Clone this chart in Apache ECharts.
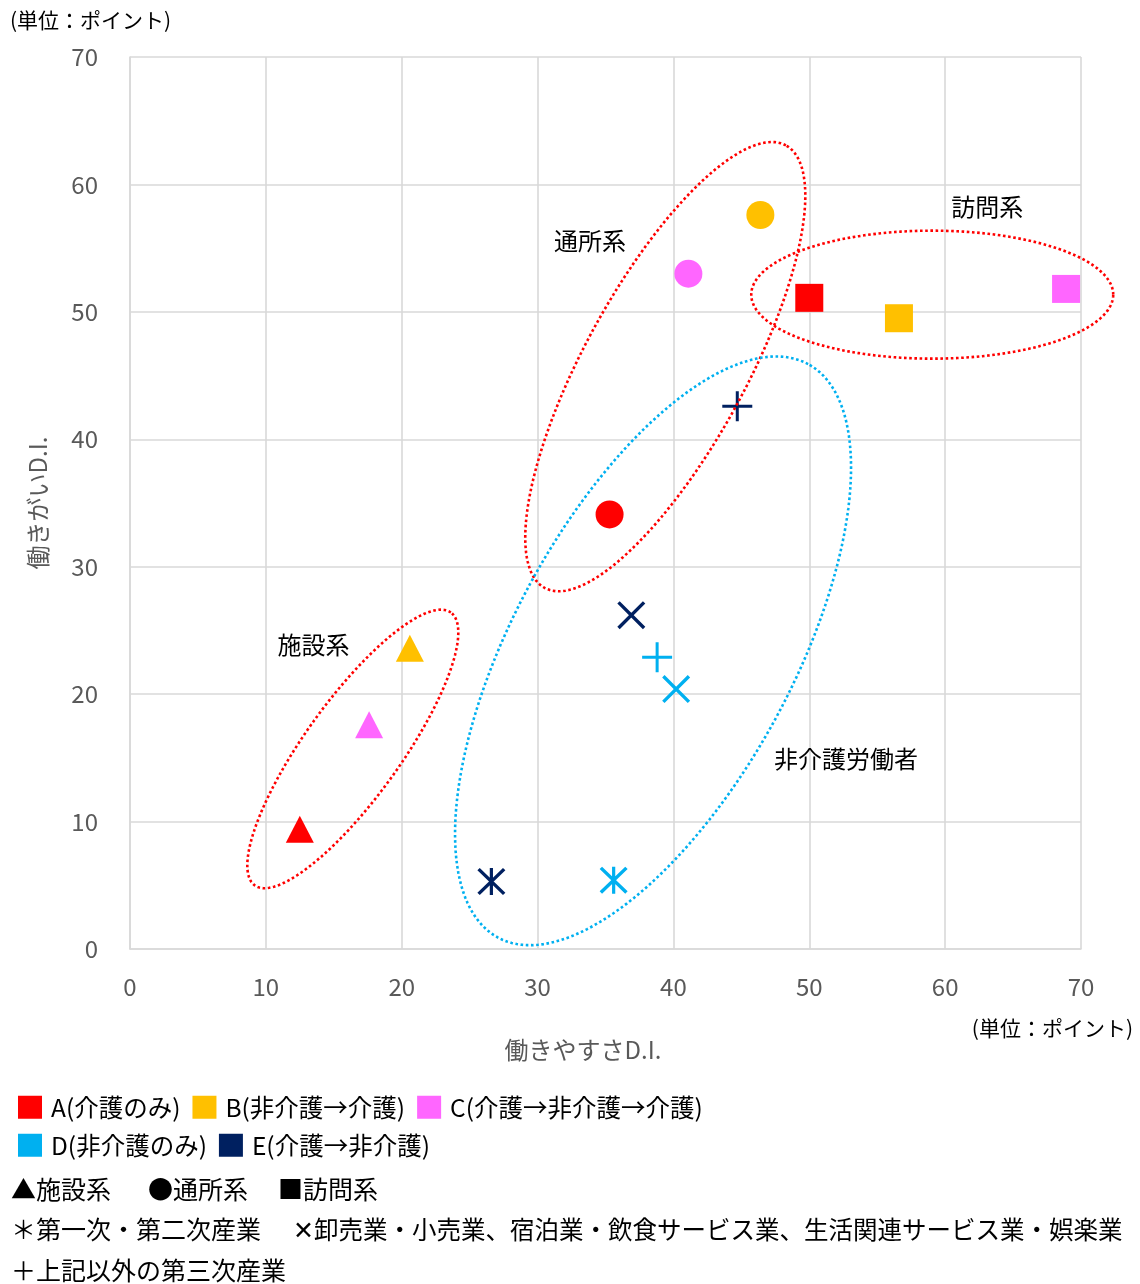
<!DOCTYPE html>
<html>
<head>
<meta charset="utf-8">
<script src="https://cdn.jsdelivr.net/npm/echarts@6/dist/echarts.min.js"></script>
<style>
  html, body { margin: 0; padding: 0; background: #ffffff; }
  #chart { width: 1140px; height: 1284px; }
</style>
</head>
<body>
<div id="chart"></div>
<script>
// Worker groups (legend entries)
const groupNames = ['A(介護のみ)', 'B(非介護→介護)', 'C(介護→非介護→介護)', 'D(非介護のみ)', 'E(介護→非介護)'];

// Care-service types for groups A–C, and industries for groups D–E
const careTypes = ['施設系', '通所系', '訪問系'];
const industries = ['第一次・第二次産業', '卸売業・小売業、宿泊業・飲食サービス業、生活関連サービス業・娯楽業', '上記以外の第三次産業'];

// [働きやすさD.I., 働きがいD.I.] per care type / industry, in the order above
const groupA = [[12.5, 9.4], [35.3, 34.1], [50.0, 51.1]];
const groupB = [[20.6, 23.6], [46.4, 57.6], [56.6, 49.5]];
const groupC = [[17.6, 17.6], [41.1, 53.0], [68.9, 51.8]];
const groupD = [[35.6, 5.4], [40.2, 20.4], [38.8, 22.9]];
const groupE = [[26.6, 5.3], [36.9, 26.2], [44.7, 42.6]];

// Axis ticks (both axes)
const axisMin = 0, axisMax = 70, axisStep = 10;

// ---- styling ----
const FONT = '"Noto Sans CJK JP", "Noto Sans", sans-serif';
const colors = ['#FF0000', '#FFC000', '#FF66FF', '#00B0F0', '#002060'];
const gridColor = '#D9D9D9';

const PLUS = 'path://M13.5,0H16.5V13.5H30V16.5H16.5V30H13.5V16.5H0V13.5H13.5Z';
const CROSS = 'path://M0,2.4L2.4,0L28,25.6L25.6,28ZM25.6,0L28,2.4L2.4,28L0,25.6Z';
const STAR = 'path://M0,2.4L2.4,0L28,25.6L25.6,28ZM25.6,0L28,2.4L2.4,28L0,25.6ZM12.4,0H15.6V28H12.4Z';

const careSymbols = [
  { symbol: 'triangle', symbolSize: [28, 27] },
  { symbol: 'circle', symbolSize: 28 },
  { symbol: 'rect', symbolSize: 28 }
];
const industrySymbols = [
  { symbol: STAR, symbolSize: [28, 27] },
  { symbol: CROSS, symbolSize: 28 },
  { symbol: PLUS, symbolSize: 30 }
];

// Dotted ellipses grouping the points (centre in data units, radii in px)
const clusterShapes = [
  { name: '施設系', center: [16.4, 15.7], rx: 168, ry: 48, angle: 54.3, color: '#FF0000', label: [13.5, 23.9] },
  { name: '通所系', center: [39.4, 45.7], rx: 252, ry: 81, angle: 61.4, color: '#FF0000', label: [33.85, 55.55] },
  { name: '訪問系', center: [59.05, 51.35], rx: 181, ry: 64, angle: 0, color: '#FF0000', label: [63.1, 58.2] },
  { name: '非介護労働者', center: [38.5, 23.4], rx: 326, ry: 140, angle: 61.6, color: '#00B0F0', label: [52.7, 14.9] }
];

function buildPoints(values, labels, symbols) {
  return values.map((v, i) => ({
    name: labels[i],
    value: v,
    symbol: symbols[i].symbol,
    symbolSize: symbols[i].symbolSize
  }));
}

const groups = [groupA, groupB, groupC, groupD, groupE];
const scatterSeries = groups.map((g, gi) => ({
  name: groupNames[gi],
  type: 'scatter',
  z: 3,
  itemStyle: { color: colors[gi], opacity: 1 },
  data: gi < 3 ? buildPoints(g, careTypes, careSymbols) : buildPoints(g, industries, industrySymbols)
}));

const ellipseSeries = {
  type: 'custom',
  coordinateSystem: 'cartesian2d',
  z: 5,
  silent: true,
  clip: false,
  data: clusterShapes.map(s => ({ name: s.name, value: s.center })),
  renderItem: function (params, api) {
    const s = clusterShapes[params.dataIndex];
    const c = api.coord([api.value(0), api.value(1)]);
    const phi = s.angle * Math.PI / 180;
    const pts = [];
    for (let d = 0; d < 360; d += 2) {
      const t = d * Math.PI / 180;
      const ex = s.rx * Math.cos(t), ey = s.ry * Math.sin(t);
      pts.push([c[0] + ex * Math.cos(phi) - ey * Math.sin(phi),
                c[1] - (ex * Math.sin(phi) + ey * Math.cos(phi))]);
    }
    const lp = api.coord(s.label);
    return {
      type: 'group',
      children: [
        { type: 'polygon', shape: { points: pts },
          style: { fill: 'none', stroke: s.color, lineWidth: 2.6, lineDash: [2.6, 2.6] } },
        { type: 'text', x: lp[0], y: lp[1],
          style: { text: s.name, fill: '#000', fontSize: 24, fontFamily: FONT,
                   align: 'center', verticalAlign: 'middle' } }
      ]
    };
  }
};

const axisCommon = {
  type: 'value',
  min: axisMin,
  max: axisMax,
  interval: axisStep,
  axisLine: { show: true, lineStyle: { color: gridColor, width: 1.6 } },
  axisTick: { show: false },
  splitLine: { show: true, lineStyle: { color: gridColor, width: 1.6 } },
  axisLabel: { color: '#595959', fontSize: 24, fontFamily: FONT },
  nameLocation: 'middle',
  nameTextStyle: { color: '#595959', fontSize: 24, fontFamily: FONT }
};

const legendText = { color: '#000', fontSize: 24.5, fontFamily: FONT, padding: [0, 0, 0, 4] };
const noteFont = '25px ' + FONT;

const chart = echarts.init(document.getElementById('chart'), null, { renderer: 'canvas' });
chart.setOption({
  animation: false,
  backgroundColor: '#ffffff',
  textStyle: { fontFamily: FONT },
  grid: { left: 130, right: 59, top: 57, bottom: 335, containLabel: false },
  xAxis: Object.assign({}, axisCommon, {
    name: '働きやすさD.I.',
    nameGap: 89,
    nameTextStyle: Object.assign({}, axisCommon.nameTextStyle, { padding: [0, 45, 0, 0] }),
    axisLabel: Object.assign({}, axisCommon.axisLabel, { margin: 26 })
  }),
  yAxis: Object.assign({}, axisCommon, {
    name: '働きがいD.I.',
    nameGap: 80,
    axisLabel: Object.assign({}, axisCommon.axisLabel, { margin: 32 })
  }),
  legend: [
    { data: groupNames.slice(0, 3), left: 18, top: 1095, orient: 'horizontal', icon: 'rect',
      itemWidth: 24, itemHeight: 23, itemGap: 12, selectedMode: false, padding: 0, textStyle: legendText },
    { data: groupNames.slice(3), left: 18, top: 1133, orient: 'horizontal', icon: 'rect',
      itemWidth: 24, itemHeight: 23, itemGap: 12, selectedMode: false, padding: 0, textStyle: legendText }
  ],
  graphic: [
    { type: 'text', left: 10, top: 10, style: { text: '(単位：ポイント)', fill: '#000', font: '21px ' + FONT } },
    { type: 'text', right: 7, top: 1018, style: { text: '(単位：ポイント)', fill: '#000', font: '21px ' + FONT } },
    { type: 'text', left: 11, top: 1177, style: { text: '▲' + careTypes[0], font: noteFont, fill: '#000' } },
    { type: 'text', left: 148, top: 1177, style: { text: '●' + careTypes[1], font: noteFont, fill: '#000' } },
    { type: 'text', left: 278, top: 1177, style: { text: '■' + careTypes[2], font: noteFont, fill: '#000' } },
    { type: 'text', left: 11, top: 1217, style: { text: '＊' + industries[0], font: noteFont, fill: '#000' } },
    { type: 'text', left: 293, top: 1217, style: { text: '✕' + industries[1], font: '24.5px ' + FONT, fill: '#000' } },
    { type: 'text', left: 11, top: 1258, style: { text: '＋' + industries[2], font: noteFont, fill: '#000' } }
  ],
  series: scatterSeries.concat([ellipseSeries])
});
</script>
</body>
</html>
